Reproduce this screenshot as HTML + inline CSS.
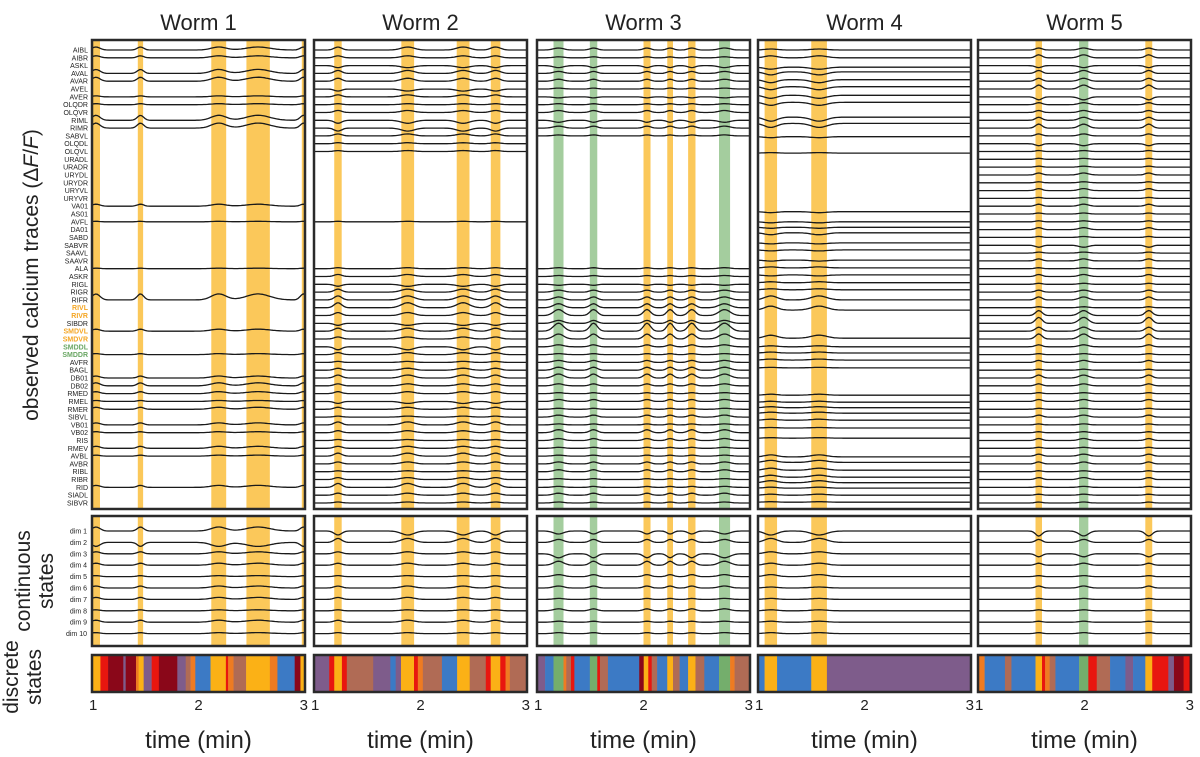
<!DOCTYPE html>
<html><head><meta charset="utf-8"><style>
html,body{margin:0;padding:0;background:#fff;}
svg{display:block;font-family:"Liberation Sans",sans-serif;}
</style></head><body>
<svg id="fig" width="1200" height="757" viewBox="0 0 1200 757" xmlns="http://www.w3.org/2000/svg">
<text transform="translate(38,275) rotate(-90)" text-anchor="middle" font-size="21" fill="#222">observed calcium traces (Δ<tspan font-style="italic">F</tspan>/<tspan font-style="italic">F</tspan>)</text>
<text transform="translate(30,581) rotate(-90)" text-anchor="middle" font-size="21" fill="#222">continuous</text>
<text transform="translate(53,581) rotate(-90)" text-anchor="middle" font-size="21" fill="#222">states</text>
<text transform="translate(18,677) rotate(-90)" text-anchor="middle" font-size="21" fill="#222">discrete</text>
<text transform="translate(41,677) rotate(-90)" text-anchor="middle" font-size="21" fill="#222">states</text>
</svg>
<script>
const neurons=["AIBL","AIBR","ASKL","AVAL","AVAR","AVEL","AVER","OLQDR","OLQVR","RIML","RIMR","SABVL","OLQDL","OLQVL","URADL","URADR","URYDL","URYDR","URYVL","URYVR","VA01","AS01","AVFL","DA01","SABD","SABVR","SAAVL","SAAVR","ALA","ASKR","RIGL","RIGR","RIFR","RIVL","RIVR","SIBDR","SMDVL","SMDVR","SMDDL","SMDDR","AVFR","BAGL","DB01","DB02","RMED","RMEL","RMER","SIBVL","VB01","VB02","RIS","RMEV","AVBL","AVBR","RIBL","RIBR","RID","SIADL","SIBVR"];
const neuronColors={RIVL:"#f5a623",RIVR:"#f5a623",SMDVL:"#f5a623",SMDVR:"#f5a623",SMDDL:"#6aa764",SMDDR:"#6aa764"};
const worms=["Worm 1","Worm 2","Worm 3","Worm 4","Worm 5"];
const panelLeft=[92,314,537,758,978];
const ticks=[1,2,3];
const stateColors={Y:"#fbb116",R:"#e8160f",D:"#8a0719",P:"#7e5c8b",B:"#b06b55",O:"#ee7b22",L:"#3c7ac5",G:"#74ae6c"};
const bands1=[[1,1.075,"Y"],[1.43,1.48,"Y"],[2.12,2.26,"Y"],[2.45,2.67,"Y"],[2.97,3,"Y"]];
const bands2=[[1.19,1.26,"Y"],[1.82,1.94,"Y"],[2.34,2.46,"Y"],[2.66,2.75,"Y"]];
const bands3=[[1.155,1.249,"G"],[1.496,1.566,"G"],[2.0,2.066,"Y"],[2.223,2.277,"Y"],[2.419,2.488,"Y"],[2.709,2.813,"G"]];
const bands4=[[1.062,1.179,"Y"],[1.5,1.647,"Y"]];
const bands5=[[1.54,1.601,"Y"],[1.949,2.036,"G"],[2.571,2.636,"Y"]];
const allBands=[bands1,bands2,bands3,bands4,bands5];
const sb1=[1,1.079,1.151,1.294,1.316,1.413,1.438,1.485,1.560,1.628,1.801,1.880,1.926,1.970,2.113,2.257,2.278,2.329,2.447,2.670,2.741,2.903,2.957,3];
const ss1=["Y","R","D","P","D","O","Y","P","R","D","P","B","O","L","Y","R","O","B","Y","O","L","D","Y"];
const sb2=[1,1.143,1.190,1.262,1.308,1.556,1.717,1.767,1.817,1.939,1.975,2.022,2.201,2.344,2.462,2.613,2.659,2.749,2.799,2.839,3];
const ss2=["P","R","Y","R","B","P","L","P","Y","R","O","B","L","Y","B","R","Y","R","O","B"];
const sb3=[1,1.076,1.155,1.249,1.275,1.319,1.351,1.496,1.566,1.591,1.666,1.960,2.002,2.045,2.077,2.128,2.223,2.277,2.339,2.419,2.488,2.571,2.709,2.813,2.855,3];
const ss3=["P","L","G","O","B","R","L","G","R","B","L","D","Y","R","B","L","Y","B","L","Y","B","L","G","O","B"];
const sb4=[1,1.062,1.179,1.5,1.647,3];
const ss4=["L","Y","L","Y","P"];
const sb5=[1,1.062,1.253,1.314,1.540,1.601,1.630,1.673,1.727,1.949,2.036,2.115,2.240,2.384,2.456,2.571,2.636,2.787,2.840,2.931,2.985,3];
const ss5=["O","L","B","L","Y","R","O","B","L","G","R","B","L","P","L","Y","R","P","D","R","D"];
const allSB=[sb1,sb2,sb3,sb4,sb5], allSS=[ss1,ss2,ss3,ss4,ss5];
const slots1=[0,1,3,4,6,7,9,10,20,22,28,32,36,39,42,43,44,45,46,48,49,51,52,56];
const amps1=[3,2,4,4,1,1,5,5,2,0.5,0.5,6,2,1,2,3,2,1,2,2,1,2,1,2];
const slots2=[0,1,2,3,4,5,6,7,8,9,10,11,12,13,22,28,29,30,31,32,33,34,35,36,37,38,39,40,41,42,43,44,45,46,47,48,49,50,51,52,53,54,55,56,57,58];
const amps2=[3,2,-2,3,3,-2,2,1,2,-3,-3,2,1,1,0.5,1,2,-2,3,4,5,3,-2,3,2,-3,2,1,2,3,2,2,-2,2,1,3,2,1,2,3,2,1,2,4,2,1];
const slots3=[0,1,2,3,4,5,6,7,8,9,10,11,28,29,30,31,32,33,34,35,36,37,38,39,40,41,42,43,44,45,46,47,48,49,50,51,52,53,54,55,56,57,58];
const amps3=[2,1,-2,2,2,1,-1,1,2,-2,2,1,1,1,-1,2,3,4,6,3,8,5,2,1,2,3,4,2,1,2,1,2,1,3,2,1,1,2,2,1,1,2,1];
const slots4=[0,1,2.2,2.8,3.8,4.7,5.8,6.7,8.6,9.4,11.1,13.2,20.7,22,22.7,23.4,24.7,25.6,26.9,27.9,28.8,29.8,30.7,32,33.3,36.9,38,38.8,39.7,40.7,44.2,45.1,45.8,46.5,47.4,48.4,49.7,52.1,52.8,53.8,54.7,55.4,56.1,57,57.9];
const amps4=[1,2,-2,-3,-3,-3,-3,-3,-4,-4,-1,0.5,-1,-1,-1,-2,-1,-1,-1,1,-1,1,1,4,4,3,1,1,1,0.5,1,1,1,1,1,0.5,0.5,2,2,2,2,2,1,1,0.5];
const slots5=[0,1,2,3,4,5,6,7,8,9,10,11,12,13,14,15,16,17,18,19,20,21,22,23,24,25,26,27,28,29,30,31,32,33,34,35,36,37,38,39,40,41,42,43,44,45,46,47,48,49,50,51,52,53,54,55,56,57,58];
const amps5=[2,3,-2,3,3,4,-3,2,2,3,4,2,-2,1,1,1,2,1,2,1,2,1,1,2,1,-2,1,2,1,2,1,2,3,1,5,6,4,5,2,1,2,1,3,2,1,2,1,2,1,1,2,1,2,2,1,2,1,1,1];
const allSlots=[slots1,slots2,slots3,slots4,slots5], allAmps=[amps1,amps2,amps3,amps4,amps5];
const dims=["dim 1","dim 2","dim 3","dim 4","dim 5","dim 6","dim 7","dim 8","dim 9","dim 10"];
const dimAmps1=[4,-4,2,2,1,2,2,1,2,1];
const dimAmps2=[-4,4,2,2,1,2,2,1,2,1];
const dimAmps3=[-3,3,-4,4,2,2,1,2,1,1];
const dimAmps4=[-4,4,2,2,2,1,1,1,1,1];
const dimAmps5=[-5,3,-3,2,1,2,1,1,1,1];
const allDimAmps=[dimAmps1,dimAmps2,dimAmps3,dimAmps4,dimAmps5];

const NS="http://www.w3.org/2000/svg";
const svg=document.getElementById('fig');
const PW=213, TOP0=40, TOP1=509, MID0=516, MID1=646, BOT0=655, BOT1=692;
function xs(w,t){return panelLeft[w]+(t-1)/2*PW;}
function yNeuron(s){return 50+s*7.81;}
function yDim(i){return 531+i*11.4;}
function mk(tag,attrs){const e=document.createElementNS(NS,tag);for(const k in attrs)e.setAttribute(k,attrs[k]);return e;}
function bumpSum(bands,t){let s=0;for(const b of bands){const c=(b[0]+b[1])/2,w=Math.max(b[1]-b[0],0.06)*0.7;s+=Math.exp(-Math.pow((t-c)/w,2));}return s;}
const bandFill={Y:"#fbc85a",G:"#a4cd9e"};

neurons.forEach((n,i)=>{
  const t=mk('text',{x:88,y:yNeuron(i)+2.5,'text-anchor':'end','font-size':'7',fill:neuronColors[n]||'#222','font-weight':neuronColors[n]?'bold':'normal'});
  t.textContent=n;
  
  
  svg.appendChild(t);
});
dims.forEach((d,i)=>{
  const t=mk('text',{x:87,y:yDim(i)+2.5,'text-anchor':'end','font-size':'7',fill:'#222'});
  t.textContent=d;
  
  
  svg.appendChild(t);
});

for(let w=0;w<5;w++){
  const L=panelLeft[w];
  const title=mk('text',{x:L+PW/2,y:30,'text-anchor':'middle','font-size':'22',fill:'#222'});
  title.textContent=worms[w];
  
  
  svg.appendChild(title);
  for(const b of allBands[w]){
    for(const [y0,y1] of [[TOP0,TOP1],[MID0,MID1]]){
      const r=mk('rect',{x:xs(w,b[0]),y:y0,width:xs(w,b[1])-xs(w,b[0]),height:y1-y0,fill:bandFill[b[2]]});
      
      
      svg.appendChild(r);
    }
  }
  const sl=allSlots[w], am=allAmps[w];
  sl.forEach((s,k)=>{
    let pts=[];
    for(let j=0;j<=120;j++){const t=1+2*j/120;pts.push(xs(w,t).toFixed(1)+','+(yNeuron(s)-am[k]*bumpSum(allBands[w],t)).toFixed(1));}
    const p=mk('polyline',{points:pts.join(' '),fill:'none',stroke:'#1a1a1a','stroke-width':'1.3'});
    
    
    svg.appendChild(p);
  });
  allDimAmps[w].forEach((a,i)=>{
    let pts=[];
    for(let j=0;j<=120;j++){const t=1+2*j/120;pts.push(xs(w,t).toFixed(1)+','+(yDim(i)-a*bumpSum(allBands[w],t)).toFixed(1));}
    const p=mk('polyline',{points:pts.join(' '),fill:'none',stroke:'#1a1a1a','stroke-width':'1.3'});
    
    
    svg.appendChild(p);
  });
  const sb=allSB[w], ss=allSS[w];
  ss.forEach((s,k)=>{
    const r=mk('rect',{x:xs(w,sb[k]),y:BOT0,width:xs(w,sb[k+1])-xs(w,sb[k])+0.3,height:BOT1-BOT0,fill:stateColors[s]});
    
    
    svg.appendChild(r);
  });
  [[TOP0,TOP1,'traces'],[MID0,MID1,'continuous'],[BOT0,BOT1,'discrete']].forEach(([y0,y1,nm])=>{
    const r=mk('rect',{x:L,y:y0,width:PW,height:y1-y0,fill:'none',stroke:'#2a2a2a','stroke-width':'2.5'});
    
    
    svg.appendChild(r);
  });
  ticks.forEach(tk=>{
    const a=tk===1?'start':(tk===3?'end':'middle');
    const t=mk('text',{x:xs(w,tk)+(tk===1?-3:(tk===3?3:0)),y:710,'text-anchor':a,'font-size':'15',fill:'#222'});
    t.textContent=tk;
    
    
    svg.appendChild(t);
  });
  const xt=mk('text',{x:L+PW/2,y:748,'text-anchor':'middle','font-size':'24',fill:'#222'});
  xt.textContent='time (min)';
  
  
  svg.appendChild(xt);
}
</script>
</body></html>
